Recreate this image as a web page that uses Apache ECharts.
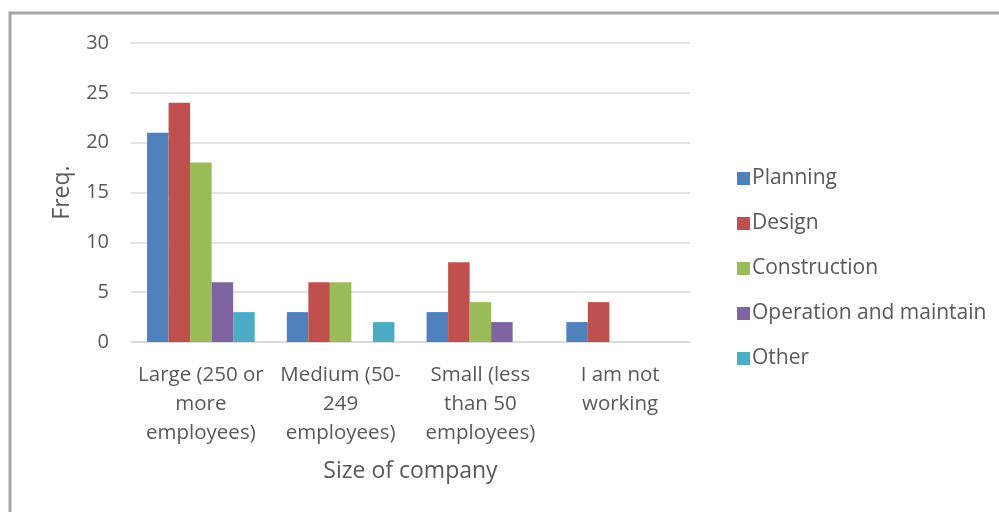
<!DOCTYPE html>
<html>
<head>
<meta charset="utf-8">
<script src="https://cdn.jsdelivr.net/npm/echarts@6/dist/echarts.min.js"></script>
<style>
  html, body { margin: 0; padding: 0; background: #fff; }
  #chart { width: 999px; height: 512px; }
</style>
</head>
<body>
<div id="chart"></div>
<script>
// Respondents by company size and work area
const categories = [
  'Large (250 or\nmore\nemployees)',
  'Medium (50-\n249\nemployees)',
  'Small (less\nthan 50\nemployees)',
  'I am not\nworking'
];
const seriesNames = ['Planning', 'Design', 'Construction', 'Operation and maintain', 'Other'];
const planning     = [21, 3, 3, 2];
const design       = [24, 6, 8, 4];
const construction = [18, 6, 4, 0];
const operation    = [6, 0, 2, 0];
const other        = [3, 2, 0, 0];
const yTicks = { min: 0, max: 30, interval: 5 };

const colors = ['#4F81BD', '#C0504D', '#9BBB59', '#8064A2', '#4BACC6'];
const values = [planning, design, construction, operation, other];
const font = '"Open Sans", sans-serif';
const textColor = '#595959';

const chart = echarts.init(document.getElementById('chart'));
chart.setOption({
  animation: false,
  color: colors,
  graphic: [{
    type: 'rect',
    shape: { x: 10, y: 13, width: 1000, height: 520 },
    style: { fill: 'none', stroke: '#a6a6a6', lineWidth: 3 },
    silent: true
  }],
  grid: { left: 131, right: 309, top: 43, bottom: 170 },
  legend: {
    orient: 'vertical',
    left: 732,
    top: 163,
    itemWidth: 13,
    itemHeight: 13,
    itemGap: 24,
    icon: 'rect',
    textStyle: { fontFamily: font, fontSize: 21, color: textColor, padding: [0, 0, 0, -3] },
    data: seriesNames
  },
  xAxis: {
    type: 'category',
    data: categories,
    name: 'Size of company',
    nameLocation: 'middle',
    nameGap: 118,
    nameTextStyle: { fontFamily: font, fontSize: 23, color: textColor },
    axisLine: { lineStyle: { color: '#d9d9d9', width: 1.5 } },
    axisTick: { show: false },
    axisLabel: {
      fontFamily: font, fontSize: 20.5, color: textColor,
      lineHeight: 29, margin: 19, interval: 0
    }
  },
  yAxis: {
    type: 'value',
    min: yTicks.min, max: yTicks.max, interval: yTicks.interval,
    name: 'Freq.',
    nameLocation: 'middle',
    nameGap: 57,
    nameTextStyle: { fontFamily: font, fontSize: 23, color: textColor },
    axisLine: { show: false },
    axisTick: { show: false },
    axisLabel: { fontFamily: font, fontSize: 20, color: textColor, margin: 22 },
    splitLine: { lineStyle: { color: '#d9d9d9', width: 1.5 } }
  },
  series: seriesNames.map((name, i) => ({
    name,
    type: 'bar',
    data: values[i],
    barGap: '0%',
    barCategoryGap: '23%'
  }))
});
</script>
</body>
</html>
